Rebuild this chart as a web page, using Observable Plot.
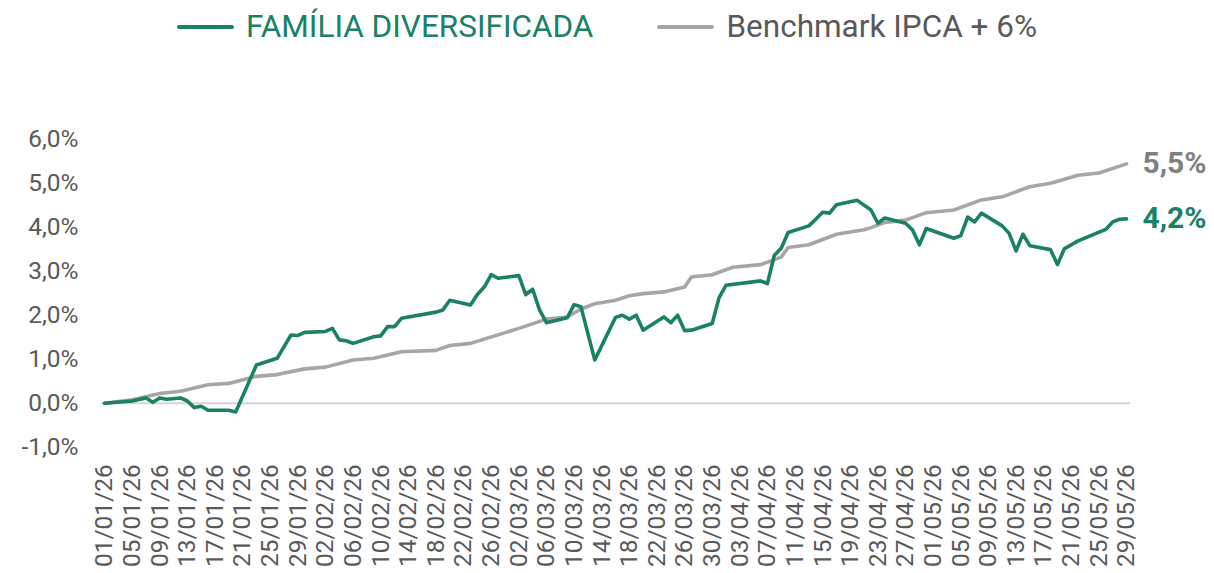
<!DOCTYPE html>
<html><head><meta charset="utf-8">
<script src="https://cdn.jsdelivr.net/npm/d3@7"></script>
<script src="https://cdn.jsdelivr.net/npm/@observablehq/plot@0.6"></script>
<style>
html,body{margin:0;padding:0;background:#fff;font-family:Roboto,sans-serif;}
#legend{height:60px;box-sizing:border-box;padding-top:7px;display:flex;justify-content:center;align-items:flex-start;}
.item{display:flex;align-items:center;height:40px;font-size:31.5px;line-height:40px;}
.item + .item{margin-left:64px;}
.sw{width:57px;height:4px;border-radius:2px;margin-right:12px;}
</style></head><body>
<div id="legend"></div>
<div id="chart"></div>
<script>
const seriesNames = ["FAMÍLIA DIVERSIFICADA", "Benchmark IPCA + 6%"];
const seriesColors = ["#1a8066", "#a6a6a6"];
const legendTextColors = ["#1a8066", "#595959"];
const endLabelColors = ["#1a8066", "#808080"];

const familiaDates = ["2026-01-01","2026-01-05","2026-01-07","2026-01-08","2026-01-09","2026-01-10","2026-01-12","2026-01-13","2026-01-14","2026-01-15","2026-01-16","2026-01-19","2026-01-20","2026-01-23","2026-01-26","2026-01-28","2026-01-29","2026-01-30","2026-02-02","2026-02-03","2026-02-04","2026-02-05","2026-02-06","2026-02-09","2026-02-10","2026-02-11","2026-02-12","2026-02-13","2026-02-18","2026-02-19","2026-02-20","2026-02-23","2026-02-24","2026-02-25","2026-02-26","2026-02-27","2026-03-02","2026-03-03","2026-03-04","2026-03-05","2026-03-06","2026-03-09","2026-03-10","2026-03-11","2026-03-13","2026-03-16","2026-03-17","2026-03-18","2026-03-19","2026-03-20","2026-03-23","2026-03-24","2026-03-25","2026-03-26","2026-03-27","2026-03-30","2026-03-31","2026-04-01","2026-04-06","2026-04-07","2026-04-08","2026-04-09","2026-04-10","2026-04-13","2026-04-14","2026-04-15","2026-04-16","2026-04-17","2026-04-20","2026-04-22","2026-04-23","2026-04-24","2026-04-27","2026-04-28","2026-04-29","2026-04-30","2026-05-04","2026-05-05","2026-05-06","2026-05-07","2026-05-08","2026-05-11","2026-05-12","2026-05-13","2026-05-14","2026-05-15","2026-05-18","2026-05-19","2026-05-20","2026-05-22","2026-05-24","2026-05-26","2026-05-27","2026-05-28","2026-05-29"];
const familiaValues = [0.00,0.05,0.12,0.02,0.12,0.09,0.12,0.05,-0.10,-0.07,-0.16,-0.16,-0.20,0.87,1.02,1.55,1.54,1.61,1.63,1.70,1.44,1.42,1.36,1.51,1.53,1.74,1.74,1.93,2.07,2.12,2.34,2.23,2.47,2.64,2.92,2.84,2.90,2.47,2.59,2.12,1.83,1.94,2.24,2.19,0.98,1.95,2.00,1.91,2.00,1.66,1.96,1.83,2.00,1.65,1.66,1.81,2.40,2.68,2.78,2.72,3.36,3.52,3.88,4.03,4.18,4.34,4.32,4.51,4.61,4.39,4.09,4.21,4.09,3.94,3.60,3.97,3.75,3.81,4.23,4.12,4.32,4.03,3.86,3.46,3.84,3.58,3.49,3.15,3.51,3.69,3.82,3.95,4.12,4.18,4.19];

const benchDates = ["2026-01-01","2026-01-05","2026-01-09","2026-01-12","2026-01-16","2026-01-19","2026-01-23","2026-01-26","2026-01-30","2026-02-02","2026-02-06","2026-02-09","2026-02-13","2026-02-18","2026-02-20","2026-02-23","2026-03-02","2026-03-06","2026-03-09","2026-03-11","2026-03-13","2026-03-16","2026-03-18","2026-03-20","2026-03-23","2026-03-26","2026-03-27","2026-03-30","2026-04-02","2026-04-06","2026-04-09","2026-04-10","2026-04-13","2026-04-17","2026-04-21","2026-04-22","2026-04-24","2026-04-27","2026-04-30","2026-05-04","2026-05-08","2026-05-11","2026-05-15","2026-05-18","2026-05-22","2026-05-25","2026-05-29"];
const benchValues = [0.00,0.08,0.22,0.27,0.42,0.45,0.61,0.65,0.78,0.82,0.98,1.02,1.17,1.20,1.31,1.36,1.70,1.91,1.96,2.14,2.26,2.34,2.44,2.49,2.53,2.64,2.87,2.92,3.09,3.15,3.32,3.54,3.60,3.84,3.94,3.99,4.11,4.16,4.33,4.39,4.62,4.69,4.92,5.00,5.18,5.23,5.44];

const endLabels = ["4,2%", "5,5%"];

const xTickLabels = ["01/01/26","05/01/26","09/01/26","13/01/26","17/01/26","21/01/26","25/01/26","29/01/26","02/02/26","06/02/26","10/02/26","14/02/26","18/02/26","22/02/26","26/02/26","02/03/26","06/03/26","10/03/26","14/03/26","18/03/26","22/03/26","26/03/26","30/03/26","03/04/26","07/04/26","11/04/26","15/04/26","19/04/26","23/04/26","27/04/26","01/05/26","05/05/26","09/05/26","13/05/26","17/05/26","21/05/26","25/05/26","29/05/26"];
const yTicks = [-1, 0, 1, 2, 3, 4, 5, 6];

// legend
const legend = document.getElementById("legend");
seriesNames.forEach((name, i) => {
  const it = document.createElement("div");
  it.className = "item";
  it.innerHTML = `<div class="sw" style="background:${seriesColors[i]}"></div><span style="color:${legendTextColors[i]}">${name}</span>`;
  legend.appendChild(it);
});

const parse = d3.utcParse("%Y-%m-%d");
const parseTick = d3.utcParse("%d/%m/%y");
const fmtTick = d3.utcFormat("%d/%m/%y");

const familia = familiaDates.map((d, i) => ({date: parse(d), value: familiaValues[i]}));
const bench = benchDates.map((d, i) => ({date: parse(d), value: benchValues[i]}));
const tickDates = xTickLabels.map(parseTick);

const ends = [
  {...familia[familia.length - 1], label: endLabels[0], color: endLabelColors[0]},
  {...bench[bench.length - 1], label: endLabels[1], color: endLabelColors[1]}
];

const chart = Plot.plot({
  width: 1214,
  height: 513,
  marginLeft: 101,
  marginRight: 84,
  marginTop: 78.7,
  marginBottom: 126.3,
  style: {fontFamily: "Roboto, sans-serif", color: "#595959", background: "#fff"},
  x: {type: "utc", domain: [tickDates[0], tickDates[tickDates.length - 1]], insetLeft: 3, insetRight: 4},
  y: {domain: [-1, 6]},
  marks: [
    Plot.ruleY([0], {stroke: "#d4d4d4", strokeWidth: 2}),
    Plot.line(bench, {x: "date", y: "value", stroke: seriesColors[1], strokeWidth: 3.6, strokeLinejoin: "round"}),
    Plot.line(familia, {x: "date", y: "value", stroke: seriesColors[0], strokeWidth: 3.6, strokeLinejoin: "round"}),
    Plot.axisY(yTicks, {tickSize: 0, tickPadding: 23, fontSize: 24.5, label: null, tickFormat: d => d.toFixed(1).replace(".", ",") + "%"}),
    Plot.axisX(tickDates, {tickSize: 0, tickPadding: 17, tickRotate: -90, fontSize: 24.5, label: null, tickFormat: fmtTick}),
    Plot.text(ends, {x: "date", y: "value", text: "label", fill: "color", dx: 16, textAnchor: "start", fontSize: 30, fontWeight: "bold"})
  ]
});
document.getElementById("chart").appendChild(chart);
</script>
</body></html>
